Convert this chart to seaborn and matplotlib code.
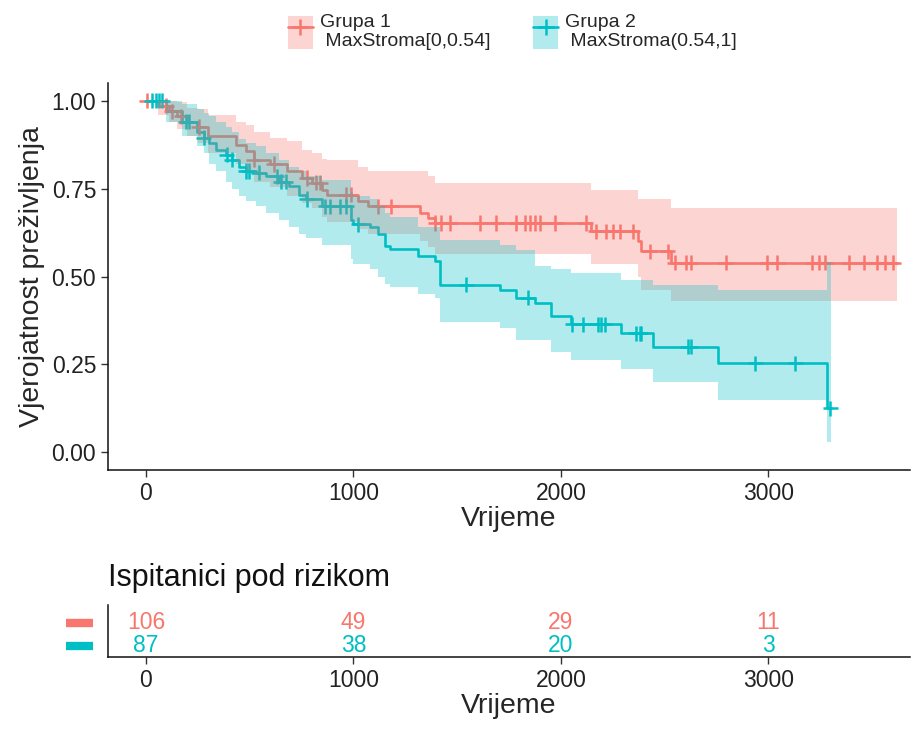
import matplotlib
matplotlib.use('Agg')
import matplotlib.pyplot as plt
import numpy as np
import pandas as pd
import seaborn as sns
from matplotlib.lines import Line2D
from matplotlib.patches import Patch

RED = '#F8766D'
TEAL = '#00BFC4'

# Grupa 1 - step times, survival and 95% CI
g1_time = [0, 60, 110, 150, 200, 250, 300, 433, 480, 519, 600, 680, 750, 798,
           846, 870, 1024, 1072, 1320, 1361, 1394, 2145, 2370, 2385, 2530]
g1_surv = [1.0, 0.985, 0.97, 0.955, 0.94, 0.925, 0.90, 0.875, 0.856, 0.832,
           0.82, 0.80, 0.78, 0.767, 0.747, 0.733, 0.714, 0.70, 0.68, 0.667,
           0.652, 0.629, 0.60, 0.572, 0.539]
g1_upper = [1.0, 1.0, 1.0, 0.995, 0.98, 0.975, 0.96, 0.94, 0.93, 0.91, 0.895,
            0.885, 0.86, 0.85, 0.835, 0.83, 0.81, 0.80, 0.80, 0.785, 0.767,
            0.747, 0.72, 0.72, 0.696]
g1_lower = [1.0, 0.96, 0.94, 0.92, 0.90, 0.88, 0.85, 0.82, 0.80, 0.77, 0.755,
            0.73, 0.71, 0.695, 0.67, 0.655, 0.635, 0.62, 0.60, 0.585, 0.565,
            0.535, 0.50, 0.463, 0.43]
g1_end = 3620
g1_censor = [5, 96, 125, 170, 255, 519, 615, 774, 817, 841, 962, 986, 1120,
             1183, 1394, 1423, 1466, 1611, 1688, 1784, 1827, 1851, 1875, 1899,
             1971, 2120, 2168, 2216, 2250, 2284, 2346, 2428, 2514, 2548, 2601,
             2625, 2793, 2995, 3043, 3212, 3245, 3274, 3389, 3462, 3524, 3562,
             3600]

# Grupa 2
g2_time = [0, 96, 173, 245, 279, 303, 337, 385, 413, 447, 480, 529, 577, 639,
           687, 736, 769, 846, 986, 1000, 1082, 1120, 1154, 1178, 1313, 1393,
           1416, 1705, 1784, 1873, 1953, 2050, 2290, 2442, 2755, 3284]
g2_surv = [1.0, 0.97, 0.94, 0.91, 0.895, 0.88, 0.86, 0.846, 0.832, 0.81, 0.80,
           0.795, 0.785, 0.77, 0.756, 0.733, 0.72, 0.70, 0.662, 0.648, 0.64,
           0.62, 0.586, 0.577, 0.558, 0.543, 0.477, 0.463, 0.44, 0.426, 0.387,
           0.364, 0.338, 0.30, 0.253, 0.125]
g2_upper = [1.0, 1.0, 0.99, 0.975, 0.965, 0.955, 0.94, 0.926, 0.91, 0.89, 0.88,
            0.87, 0.85, 0.83, 0.81, 0.80, 0.785, 0.775, 0.74, 0.73, 0.72, 0.70,
            0.68, 0.67, 0.64, 0.64, 0.605, 0.59, 0.575, 0.53, 0.52, 0.51, 0.49,
            0.475, 0.463, 0.54]
g2_lower = [1.0, 0.94, 0.90, 0.87, 0.85, 0.82, 0.80, 0.77, 0.75, 0.73, 0.715,
            0.70, 0.68, 0.66, 0.64, 0.62, 0.61, 0.59, 0.55, 0.535, 0.52, 0.50,
            0.48, 0.47, 0.45, 0.44, 0.37, 0.355, 0.32, 0.32, 0.284, 0.264,
            0.236, 0.20, 0.15, 0.03]
g2_end = 3300
g2_censor = [29, 48, 63, 77, 192, 207, 279, 389, 413, 481, 495, 543, 630, 649,
             673, 774, 865, 889, 937, 966, 1024, 1543, 1841, 2055, 2106, 2178,
             2192, 2211, 2361, 2380, 2385, 2611, 2625, 2937, 3130, 3298]

risk_times = [0, 1000, 2000, 3000]
g1_risk = [106, 49, 29, 11]
g2_risk = [87, 38, 20, 3]

group_labels = ['Grupa 1\n MaxStroma[0,0.54]', 'Grupa 2\n MaxStroma(0.54,1]']


def step_frame(times, surv, upper, lower, end, name):
    return pd.DataFrame({
        'time': list(times) + [end],
        'surv': list(surv) + [surv[-1]],
        'upper': list(upper) + [upper[-1]],
        'lower': list(lower) + [lower[-1]],
        'group': name,
    })


def censor_frame(times, surv, censor, name):
    idx = np.searchsorted(times, censor, side='right') - 1
    return pd.DataFrame({'time': censor,
                         'surv': np.asarray(surv)[idx],
                         'group': name})


def style_axis(a):
    a.tick_params(labelsize=16.5, length=5, width=1, colors='#333333',
                  labelcolor='#222222')
    sns.despine(ax=a)
    for sp in a.spines.values():
        sp.set_linewidth(1.1)
        sp.set_color('#111111')


sns.set_theme(style='ticks')
plt.rcParams['font.family'] = ['Liberation Sans', 'DejaVu Sans']

curves = pd.concat([
    step_frame(g1_time, g1_surv, g1_upper, g1_lower, g1_end, group_labels[0]),
    step_frame(g2_time, g2_surv, g2_upper, g2_lower, g2_end, group_labels[1]),
])
censors = pd.concat([
    censor_frame(g1_time, g1_surv, g1_censor, group_labels[0]),
    censor_frame(g2_time, g2_surv, g2_censor, group_labels[1]),
])
palette = dict(zip(group_labels, [RED, TEAL]))

fig = plt.figure(figsize=(9.23, 7.34), dpi=100)
ax = fig.add_axes([108 / 923, 1 - 470 / 734, 802 / 923, 387 / 734])

sns.lineplot(data=curves, x='time', y='surv', hue='group', palette=palette,
             estimator=None, drawstyle='steps-post', linewidth=1.9,
             legend=False, ax=ax)
sns.scatterplot(data=censors, x='time', y='surv', hue='group', palette=palette,
                marker='+', s=120, linewidth=1.8, legend=False, ax=ax,
                zorder=2.5)
# ribbons drawn over the lines, as in ggplot
for name in group_labels:
    d = curves[curves['group'] == name]
    ax.fill_between(d['time'], d['lower'], d['upper'], step='post',
                    color=palette[name], alpha=0.3, linewidth=0, zorder=3)

xmin, xmax = -183, 3682
ax.set_xlim(xmin, xmax)
ax.set_ylim(-0.05, 1.05)
ax.set_xticks([0, 1000, 2000, 3000])
ax.set_yticks([0, 0.25, 0.5, 0.75, 1.0])
ax.set_yticklabels(['0.00', '0.25', '0.50', '0.75', '1.00'])
ax.set_xlabel('Vrijeme', fontsize=20.5, labelpad=1)
ax.set_ylabel('Vjerojatnost preživljenja', fontsize=20.5, labelpad=5)
style_axis(ax)

# legend
handles = []
for name in group_labels:
    handles.append((Patch(facecolor=palette[name], alpha=0.3, linewidth=0),
                    Line2D([], [], color=palette[name], lw=1.9, marker='+',
                           markersize=12, markeredgewidth=1.8)))
fig.legend(handles, group_labels, loc='upper center',
           bbox_to_anchor=(0.555, 1.005), ncol=2, frameon=False, fontsize=14,
           handlelength=1.3, handleheight=2.2, handletextpad=0.35,
           columnspacing=2.2, labelspacing=0.2)

# risk table
rax = fig.add_axes([108 / 923, 1 - 657 / 734, 802 / 923, 52 / 734])
risk = pd.DataFrame({
    'time': risk_times * 2,
    'row': [1] * len(risk_times) + [0] * len(risk_times),
    'n': g1_risk + g2_risk,
    'group': [group_labels[0]] * len(risk_times) + [group_labels[1]] * len(risk_times),
})
for _, r in risk.iterrows():
    rax.text(r['time'], r['row'], str(r['n']), ha='center', va='center',
             fontsize=16.5, color=palette[r['group']])
rax.set_xlim(xmin, xmax)
rax.set_ylim(-0.52, 1.74)
rax.set_xticks([0, 1000, 2000, 3000])
rax.set_yticks([])
rax.set_xlabel('Vrijeme', fontsize=20.5, labelpad=1)
style_axis(rax)
for row, name in zip([1, 0], group_labels):
    rax.plot([-0.052, -0.019], [row - 0.05, row - 0.05],
             transform=rax.get_yaxis_transform(), color=palette[name],
             lw=6, solid_capstyle='butt', clip_on=False)
fig.text(108 / 923, 1 - 578 / 734, 'Ispitanici pod rizikom', fontsize=22,
         va='center', ha='left', color='#111111')

fig.savefig('out.png', dpi=100, facecolor='white')
